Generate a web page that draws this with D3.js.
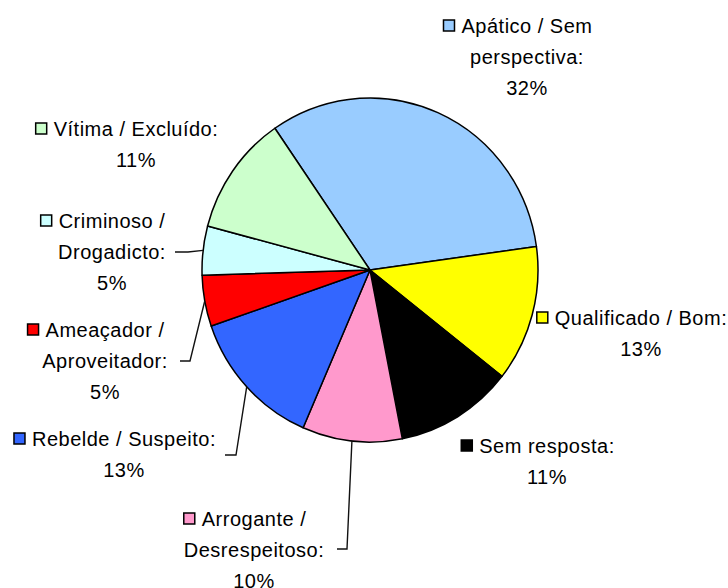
<!DOCTYPE html>
<html>
<head>
<meta charset="utf-8">
<script src="https://cdn.jsdelivr.net/npm/d3@7"></script>
<style>
  body { margin: 0; background: #fff; }
  svg text {
    font-family: "Liberation Sans", Arial, sans-serif;
    font-size: 20px;
    letter-spacing: 0.5px;
    fill: #000;
  }
</style>
</head>
<body>
<div class="chart"></div>
<script>

//////////
// DATA //
//////////

var categories = [
    "Apático / Sem perspectiva",
    "Qualificado / Bom",
    "Sem resposta",
    "Arrogante / Desrespeitoso",
    "Rebelde / Suspeito",
    "Ameaçador / Aproveitador",
    "Criminoso / Drogadicto",
    "Vítima / Excluído"
];

// shares (labels round them)
var shares = [32.4, 12.8, 11.3, 9.6, 13.2, 4.8, 4.6, 11.3];

var colors = ["#99CCFF", "#FFFF00", "#000000", "#FF99CC", "#3366FF", "#FF0000", "#CCFFFF", "#CCFFCC"];

var labelLines = [
    ["Apático / Sem", "perspectiva:"],
    ["Qualificado / Bom:"],
    ["Sem resposta:"],
    ["Arrogante /", "Desrespeitoso:"],
    ["Rebelde / Suspeito:"],
    ["Ameaçador /", "Aproveitador:"],
    ["Criminoso /", "Drogadicto:"],
    ["Vítima / Excluído:"]
];

////////////
// LAYOUT //
////////////

var W = 728, H = 588;
var cx = 370, cy = 270, rx = 168, ry = 172;
var lineGap = 31;

// label anchor (text centre, first baseline) as placed in the original
var labelPos = [
    [527, 33], [641, 325], [547, 453], [254, 526],
    [124, 446], [105, 337], [112, 228], [136, 136]
];

// leader elbows (only for the labels that have one)
var leaders = {
    3: [[337, 549], [347, 549]],
    4: [[225, 455], [236, 455]],
    5: [[180, 361], [190, 361]],
    6: [[175, 252], [188, 252]]
};

var svg = d3.select('.chart')
    .append('svg')
    .attr('width', W)
    .attr('height', H);

/////////
// PIE //
/////////

var total = d3.sum(shares);
var startA = -34.5 * Math.PI / 180;

var pie = d3.pie()
    .sort(null)
    .value(function(d) { return d; })
    .startAngle(startA)
    .endAngle(startA + 2 * Math.PI);

var arcs = pie(shares);

var arc = d3.arc()
    .innerRadius(0)
    .outerRadius(rx);

var pieG = svg.append('g')
    .attr('transform', 'translate(' + cx + ',' + cy + ') scale(1,' + (ry / rx) + ')');

pieG.selectAll('.slice')
    .data(arcs)
    .enter()
    .append('path')
    .attr('class', 'slice')
    .attr('d', arc)
    .style('fill', function(d, i) { return colors[i]; })
    .style('stroke', '#000')
    .style('stroke-width', 1.5)
    .style('vector-effect', 'non-scaling-stroke')
    .style('stroke-linejoin', 'round');

////////////
// LABELS //
////////////

var labels = svg.selectAll('.label')
    .data(arcs)
    .enter()
    .append('g')
    .attr('class', 'label');

labels.each(function(d, i) {
    var g = d3.select(this);
    var pos = labelPos[i];
    var lines = labelLines[i].concat([Math.round(d.value / total * 100) + '%']);

    lines.forEach(function(t, k) {
        g.append('text')
            .attr('x', pos[0])
            .attr('y', pos[1] + k * lineGap)
            .attr('text-anchor', 'middle')
            .text(t);
    });

    // legend key in front of the first line
    var first = g.select('text').node();
    var len = first.getComputedTextLength();
    g.append('rect')
        .attr('x', pos[0] - len / 2 - 18)
        .attr('y', pos[1] - 13)
        .attr('width', 11)
        .attr('height', 11)
        .style('fill', colors[i])
        .style('stroke', '#000')
        .style('stroke-width', 1.5);

    // leader line to the rim of the slice
    if (leaders[i]) {
        var mid = (d.startAngle + d.endAngle) / 2;
        var end = [cx + rx * Math.sin(mid), cy - ry * Math.cos(mid)];
        svg.append('polyline')
            .attr('points', leaders[i].concat([end]).map(function(p) { return p.join(','); }).join(' '))
            .style('fill', 'none')
            .style('stroke', '#111')
            .style('stroke-width', 1.4);
    }
});

</script>
</body>
</html>
